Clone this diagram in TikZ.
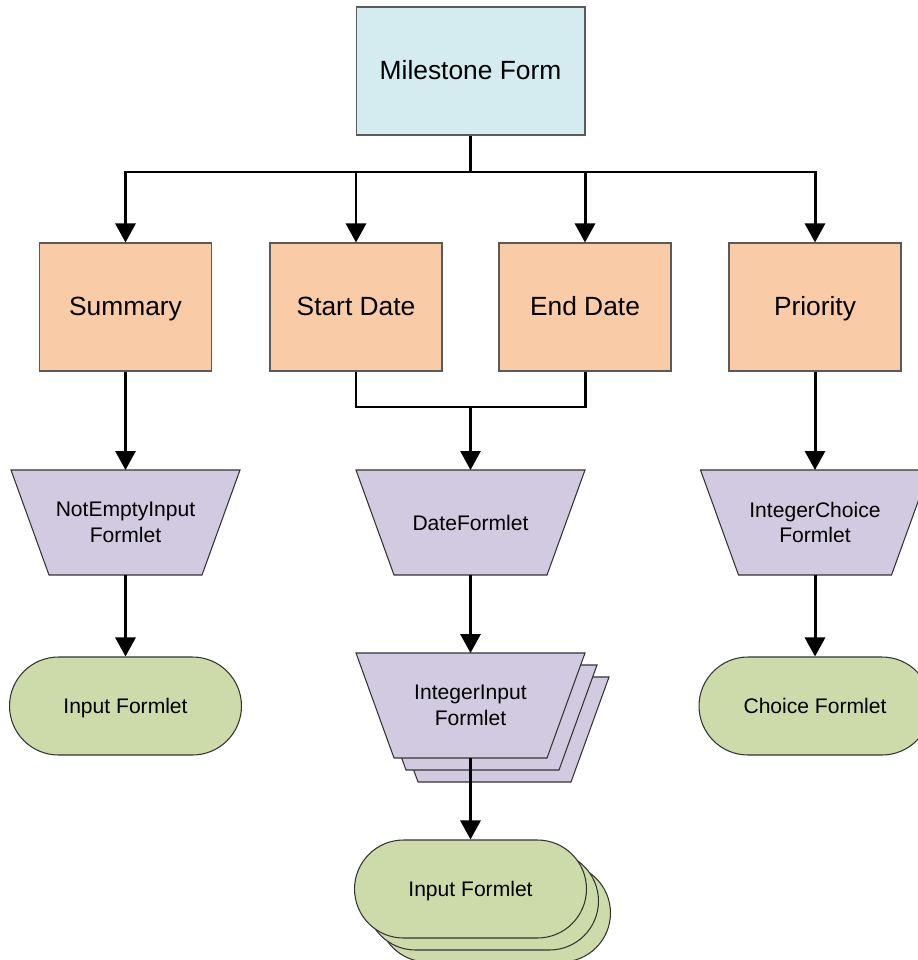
\documentclass[tikz,border=0pt]{standalone}
\usepackage{fontspec}
\setmainfont{Liberation Sans}
\usetikzlibrary{arrows.meta,calc}
\definecolor{formblue}{RGB}{212,235,240}
\definecolor{fieldorange}{RGB}{249,204,167}
\definecolor{formletpurple}{RGB}{210,202,224}
\definecolor{basegreen}{RGB}{205,219,170}
\definecolor{edgegray}{RGB}{90,90,90}
\tikzset{
	formbox/.style={draw=edgegray, line width=0.6pt, fill=formblue, minimum width=4.58cm, minimum height=2.56cm, text height=10.7pt, text depth=0.5pt, font=\fontsize{15}{18}\selectfont},
	fieldbox/.style={draw=edgegray, line width=0.6pt, fill=fieldorange, minimum width=3.44cm, minimum height=2.56cm, text height=10.7pt, text depth=0.5pt, font=\fontsize{15}{18}\selectfont},
	formletshape/.style={draw=black!80, line width=0.6pt, fill=formletpurple},
	formlettext/.style={minimum width=4.58cm, minimum height=2.1cm, inner sep=0pt, outer sep=0pt, align=center, font=\fontsize{12}{14.5}\selectfont},
	basebox/.style={draw=black!80, line width=0.6pt, fill=basegreen, rounded corners=0.98cm, minimum width=4.64cm, minimum height=1.96cm, text height=8.6pt, text depth=0.3pt, font=\fontsize{12}{14.5}\selectfont},
	conn/.style={line width=1.7pt},
	arrowconn/.style={line width=1.7pt, -{Triangle[width=0.4cm,length=0.38cm]}}
}
% formlet: upside-down trapezium with its text node
\def\formlet(#1)(#2)#3{\draw[formletshape] ($(#2)+(-114.5,-52.5)$) -- ++(229,0) -- ++(-38,105) -- ++(-153,0) -- cycle;
	\node[formlettext] (#1) at (#2) {#3};}
\begin{document}
\begin{tikzpicture}[x=0.02cm, y=-0.02cm]
		\useasboundingbox (0, 0) rectangle (918, 960);
		%%%%% FORM AND FIELDS %%%%%
		\node[formbox] (ms) at (470.5, 71) {Milestone Form};
		
		\node[fieldbox] (sum) at (125.5, 307) {Summary};
		\node[fieldbox] (sd) at (356, 307) {Start Date};
		\node[fieldbox] (ed) at (585, 307) {End Date};
		\node[fieldbox] (pr) at (815, 307) {Priority};
		
		\coordinate (bus) at (470.5, 172);
		\draw[conn] (ms.south) -- (bus);
		\draw[arrowconn] (bus) -| (sum.north);
		\draw[arrowconn] (bus) -| (sd.north);
		\draw[arrowconn] (bus) -| (ed.north);
		\draw[arrowconn] (bus) -| (pr.north);
		
		%%%%% FORMLETS %%%%%
		\formlet(nei)(125.5, 522.5){NotEmptyInput\\Formlet}
		\formlet(df)(470.5, 522.5){DateFormlet}
		\formlet(ic)(815, 522.5){IntegerChoice\\Formlet}
		
		\coordinate (join) at (470.5, 407);
		\draw[arrowconn] (sum.south) -- (nei.north);
		\draw[conn] (sd.south) |- (join) -| (ed.south);
		\draw[arrowconn] (join) -- (df.north);
		\draw[arrowconn] (pr.south) -- (ic.north);
		
		\formlet(ii3)(494.5, 729.5){}
		\formlet(ii2)(482.5, 717.5){}
		\formlet(ii)(470.5, 705.5){IntegerInput\\Formlet}
		\draw[arrowconn] (df.south) -- (ii.north);
		
		%%%%% BASE FORMLETS %%%%%
		\node[basebox] (inp) at (125.5, 706) {Input Formlet};
		\node[basebox] (cf) at (815, 706) {Choice Formlet};
		\draw[arrowconn] (nei.south) -- (inp.north);
		\draw[arrowconn] (ic.south) -- (cf.north);
		
		\node[basebox] (if3) at (494.5, 913) {};
		\node[basebox] (if2) at (482.5, 901) {};
		\node[basebox] (if) at (470.5, 889) {Input Formlet};
		\draw[arrowconn] (ii.south) -- (if.north);
		%%%%% END %%%%%
\end{tikzpicture}
\end{document}
